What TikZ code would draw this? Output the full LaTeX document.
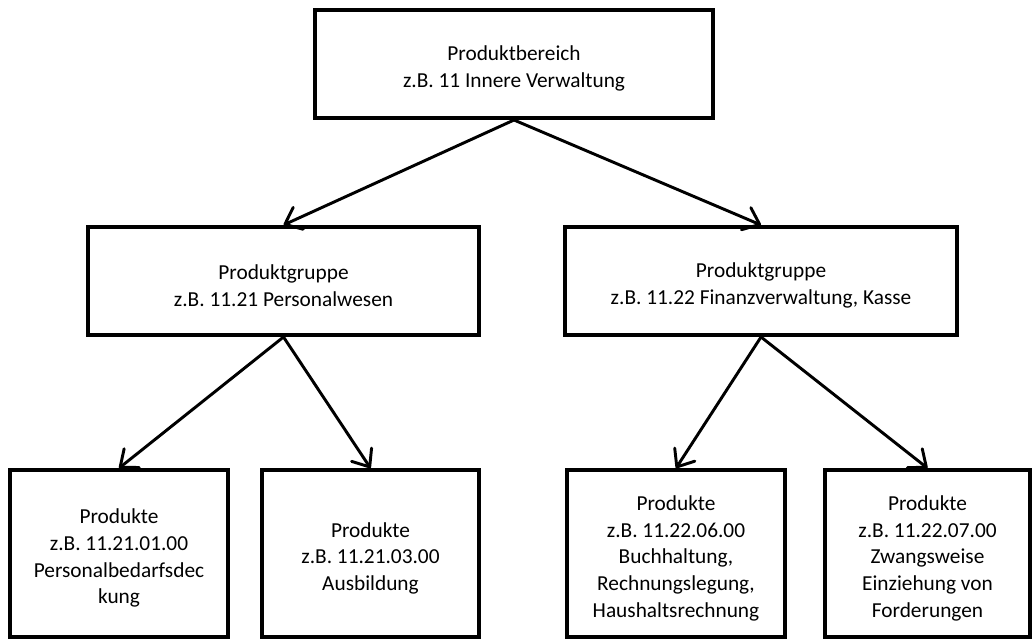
\documentclass[tikz,border=0pt]{standalone}
\usepackage{fontspec}
\setmainfont{Carlito}
\usetikzlibrary{arrows.meta,positioning}
\newcommand{\oben}{\rule{0pt}{18pt}}

\begin{document}
\begin{tikzpicture}[x=0.75pt,y=-0.75pt,
    box/.style={draw,line width=3pt,align=center,inner sep=0pt,
      font=\fontsize{16}{20}\selectfont},
    link/.style={-{Straight Barb[length=11pt,width=18pt,line width=2.2pt,round]},line width=2.2pt}]
   \useasboundingbox (0,0) rectangle (1034,640);
   % Produktbereich
   \node[box,minimum width=298.5pt,minimum height=81pt] (bereich) at (514,64)
     {\oben Produktbereich\\z.B. 11 Innere Verwaltung};
   % Produktgruppen
   \node[box,minimum width=293pt,minimum height=81pt] (gruppeA) at (283.5,281)
     {\oben Produktgruppe\\z.B. 11.21 Personalwesen};
   \node[box,minimum width=294pt,minimum height=81pt] (gruppeB) at (761,281)
     {\oben Produktgruppe\\z.B. 11.22 Finanzverwaltung, Kasse};
   % Produkte
   \node[box,minimum width=163.5pt,minimum height=125pt] (produktA) at (119,553.5)
     {\oben Produkte\\z.B. 11.21.01.00\\Personalbedarfsdec\\kung};
   \node[box,minimum width=163pt,minimum height=125pt] (produktB) at (370.5,553.5)
     {\oben Produkte\\z.B. 11.21.03.00\\Ausbildung};
   \node[box,minimum width=163.5pt,minimum height=125pt] (produktC) at (676,553.5)
     {\oben Produkte\\z.B. 11.22.06.00\\Buchhaltung,\\Rechnungslegung,\\Haushaltsrechnung};
   \node[box,minimum width=154pt,minimum height=125pt] (produktD) at (927.5,553.5)
     {\oben Produkte\\z.B. 11.22.07.00\\Zwangsweise\\Einziehung von\\Forderungen};
    \path[link]
    (bereich.south) edge (gruppeA.north)
                    edge (gruppeB.north)
    (gruppeA.south) edge (produktA.north)
                    edge (produktB.north)
    (gruppeB.south) edge (produktC.north)
                    edge (produktD.north);
\end{tikzpicture}
\end{document}
